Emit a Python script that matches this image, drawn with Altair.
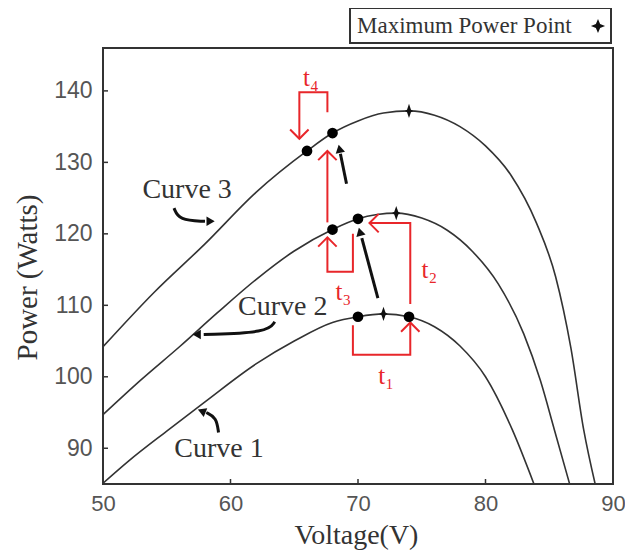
import altair as alt
import pandas as pd

# ---- curve data (Voltage V, Power W) ----
V1 = [50, 52, 55, 58, 62, 65, 68, 70, 72, 74, 76, 78, 80, 82.1, 83.8]
P1 = [85.1, 88.2, 92.4, 96.5, 101.8, 105.0, 107.6, 108.4, 108.8, 108.4, 107.0, 104.3, 100.0, 92.6, 85.0]

V2 = [50, 53, 56, 59, 62, 65, 68, 70, 71.5, 73, 75, 77, 79, 81, 83, 84.3, 85.4, 86.6]
P2 = [94.7, 99.6, 104.2, 109.0, 113.6, 117.6, 120.6, 122.1, 122.7, 122.9, 122.2, 120.5, 117.5, 113.0, 106.0, 99.5, 92.6, 85.0]

V3 = [50, 54, 58, 62, 66, 68, 70, 72, 74, 76, 78, 80, 82, 84, 85.5, 86.7, 87.7, 88.6]
P3 = [104.2, 111.8, 118.6, 125.8, 131.6, 134.1, 135.8, 136.9, 137.2, 136.6, 135.0, 132.3, 128.2, 121.5, 114.0, 104.0, 92.6, 85.0]

# maximum power points
MPP_V = [72, 73, 74]
MPP_P = [108.8, 122.9, 137.2]

# operating points (black dots)
DOT_V = [70, 74, 68, 70, 66, 68]
DOT_P = [108.4, 108.4, 120.6, 122.1, 131.6, 134.1]

# red step annotations (segments)
RED_SEG = ["t1"] * 4 + ["t2"] * 3 + ["t3"] * 4 + ["up"] * 2 + ["t4"] * 4
RED_V = [69.6, 69.6, 74.1, 74.1,
         74.1, 74.1, 70.9,
         69.6, 69.6, 67.6, 67.6,
         67.6, 67.6,
         67.6, 67.6, 65.4, 65.4]
RED_P = [107.2, 103.1, 103.1, 107.6,
         110.2, 121.5, 121.5,
         120.0, 114.7, 114.7, 119.5,
         121.6, 131.6,
         137.0, 139.8, 139.8, 133.3]
HEAD_V = [74.1, 70.9, 67.6, 67.6, 65.4]
HEAD_P = [107.6, 121.5, 119.5, 131.6, 133.3]
HEAD_ANGLE = [0, 270, 0, 0, 180]

RED_LABELS = ["t₁", "t₂", "t₃", "t₄"]
RED_LAB_V = [72.2, 75.6, 68.85, 66.3]
RED_LAB_P = [100.1, 114.9, 111.9, 141.8]

# black arrows
BLK_SEG = ["a"] * 2 + ["b"] * 2 + ["c3"] * 3 + ["c2"] * 3 + ["c1"] * 3
BLK_V = [69.1, 68.62, 71.56, 70.3, 55.57, 55.96, 58.0, 63.47, 62.93, 57.9, 59.06, 58.9, 58.1]
BLK_P = [127.0, 131.2, 111.0, 119.4, 123.6, 121.9, 121.75, 107.7, 106.2, 105.9, 92.2, 94.3, 95.0]
BHEAD_V = [68.55, 70.15, 58.44, 57.35, 57.74]
BHEAD_P = [131.9, 120.3, 121.75, 105.9, 95.2]
BHEAD_ANGLE = [348, 345, 90, 270, 292]

CURVE_LABELS = ["Curve 1", "Curve 2", "Curve 3"]
CURVE_LAB_V = [59.1, 64.1, 56.6]
CURVE_LAB_P = [89.9, 109.8, 126.1]

X_TICKS = [50, 60, 70, 80, 90]
Y_TICKS = [90, 100, 110, 120, 130, 140]

W, H = 510, 436

curve_df = pd.DataFrame({
    "V": V1 + V2 + V3,
    "P": P1 + P2 + P3,
    "curve": ["1"] * len(V1) + ["2"] * len(V2) + ["3"] * len(V3),
})
mpp_df = pd.DataFrame({"V": MPP_V, "P": MPP_P})
dot_df = pd.DataFrame({"V": DOT_V, "P": DOT_P})
red_df = pd.DataFrame({"V": RED_V, "P": RED_P, "seg": RED_SEG, "i": list(range(len(RED_V)))})
head_df = pd.DataFrame({"V": HEAD_V, "P": HEAD_P, "ang": HEAD_ANGLE})
redlab_df = pd.DataFrame({"V": RED_LAB_V, "P": RED_LAB_P, "t": RED_LABELS})
blk_df = pd.DataFrame({"V": BLK_V, "P": BLK_P, "seg": BLK_SEG, "i": list(range(len(BLK_V)))})
bhead_df = pd.DataFrame({"V": BHEAD_V, "P": BHEAD_P, "ang": BHEAD_ANGLE})
clab_df = pd.DataFrame({"V": CURVE_LAB_V, "P": CURVE_LAB_P, "t": CURVE_LABELS})
xt_df = pd.DataFrame({"V": X_TICKS[1:-1]})
yt_df = pd.DataFrame({"P": Y_TICKS})
one = pd.DataFrame({"a": [0]})

xs = alt.Scale(domain=[50, 90], nice=False, zero=False)
ys = alt.Scale(domain=[85, 146], nice=False, zero=False)

RED = "#e8262a"
INK = "#333333"
STAR = "M0,-1L0.28,-0.18L0.6,0L0.28,0.18L0,1L-0.28,0.18L-0.6,0L-0.28,-0.18Z"
CHEV = "M-0.9,0.9L0,0L0.9,0.9"

x_axis = alt.Axis(values=X_TICKS, ticks=False, domain=False, grid=False, labelFlush=False,
                  labelFont="Liberation Sans", labelFontSize=22, labelColor="#555555", labelPadding=9,
                  title="Voltage(V)", titleFont="Liberation Serif", titleFontSize=28,
                  titleFontWeight="normal", titleColor=INK, titleX=253, titleY=51,
                  titleBaseline="middle", titleAlign="center")
y_axis = alt.Axis(values=Y_TICKS, ticks=False, domain=False, grid=False, labelFlush=False,
                  labelFont="Liberation Sans", labelFontSize=23, labelColor="#555555", labelPadding=11,
                  title="Power (Watts)", titleFont="Liberation Serif", titleFontSize=29,
                  titleFontWeight="normal", titleColor=INK, titleX=-76, titleY=229,
                  titleAngle=-90, titleBaseline="middle", titleAlign="center")

curves = alt.Chart(curve_df).mark_line(color=INK, strokeWidth=1.6, interpolate="monotone", clip=True).encode(
    x=alt.X("V:Q", scale=xs, axis=x_axis),
    y=alt.Y("P:Q", scale=ys, axis=y_axis),
    detail="curve:N",
)

xticks = alt.Chart(xt_df).mark_rule(color=INK, strokeWidth=1.5).encode(
    x=alt.X("V:Q", scale=xs), y=alt.value(H), y2=alt.value(H - 5))
yticks = alt.Chart(yt_df).mark_rule(color=INK, strokeWidth=1.5).encode(
    y=alt.Y("P:Q", scale=ys), x=alt.value(0), x2=alt.value(5))

red_lines = alt.Chart(red_df).mark_line(color=RED, strokeWidth=2).encode(
    x=alt.X("V:Q", scale=xs), y=alt.Y("P:Q", scale=ys), detail="seg:N", order="i:Q")
red_heads = alt.Chart(head_df).mark_point(shape=CHEV, filled=False, color=RED, strokeWidth=2, size=420, opacity=1).encode(
    x=alt.X("V:Q", scale=xs), y=alt.Y("P:Q", scale=ys), angle=alt.Angle("ang:Q", scale=None))
red_text = alt.Chart(redlab_df).mark_text(color=RED, font="Liberation Serif", fontSize=25,
                                          align="center", baseline="middle").encode(
    x=alt.X("V:Q", scale=xs), y=alt.Y("P:Q", scale=ys), text="t:N")

blk_lines = alt.Chart(blk_df).mark_line(color="#111111", strokeWidth=3, interpolate="basis").encode(
    x=alt.X("V:Q", scale=xs), y=alt.Y("P:Q", scale=ys), detail="seg:N", order="i:Q")
blk_heads = alt.Chart(bhead_df).mark_point(shape="triangle-up", filled=True, color="#111111", size=90, opacity=1).encode(
    x=alt.X("V:Q", scale=xs), y=alt.Y("P:Q", scale=ys), angle=alt.Angle("ang:Q", scale=None))

dots = alt.Chart(dot_df).mark_point(shape="circle", filled=True, color="#000000", size=115, opacity=1).encode(
    x=alt.X("V:Q", scale=xs), y=alt.Y("P:Q", scale=ys))
mpp = alt.Chart(mpp_df).mark_point(shape=STAR, filled=True, color="#111111", size=200, opacity=1).encode(
    x=alt.X("V:Q", scale=xs), y=alt.Y("P:Q", scale=ys))

clabels = alt.Chart(clab_df).mark_text(color=INK, font="Liberation Serif", fontSize=28,
                                       align="center", baseline="middle").encode(
    x=alt.X("V:Q", scale=xs), y=alt.Y("P:Q", scale=ys), text="t:N")

leg_box = alt.Chart(one).mark_rect(fill="white", stroke=INK, strokeWidth=2).encode(
    x=alt.value(247), x2=alt.value(508), y=alt.value(-40), y2=alt.value(-5))
leg_text = alt.Chart(one).mark_text(text="Maximum Power Point", font="Liberation Serif", fontSize=23,
                                    color=INK, align="left", baseline="middle").encode(
    x=alt.value(254), y=alt.value(-22))
leg_star = alt.Chart(one).mark_point(shape="M0,-1L0.3,-0.3L1,0L0.3,0.3L0,1L-0.3,0.3L-1,0L-0.3,-0.3Z",
                                     filled=True, color="#111111", size=200, opacity=1).encode(
    x=alt.value(495), y=alt.value(-22))

chart = alt.layer(
    curves, xticks, yticks, red_lines, red_heads, red_text, blk_lines, blk_heads,
    dots, mpp, clabels, leg_box, leg_text, leg_star,
).properties(
    width=W, height=H,
    padding={"left": 95, "top": 40, "right": 12, "bottom": 67},
    autosize=alt.AutoSizeParams(type="none"),
    background="white",
).configure_view(stroke=INK, strokeWidth=2)

chart.save("out.html", embed_options={"renderer": "svg", "actions": False})
